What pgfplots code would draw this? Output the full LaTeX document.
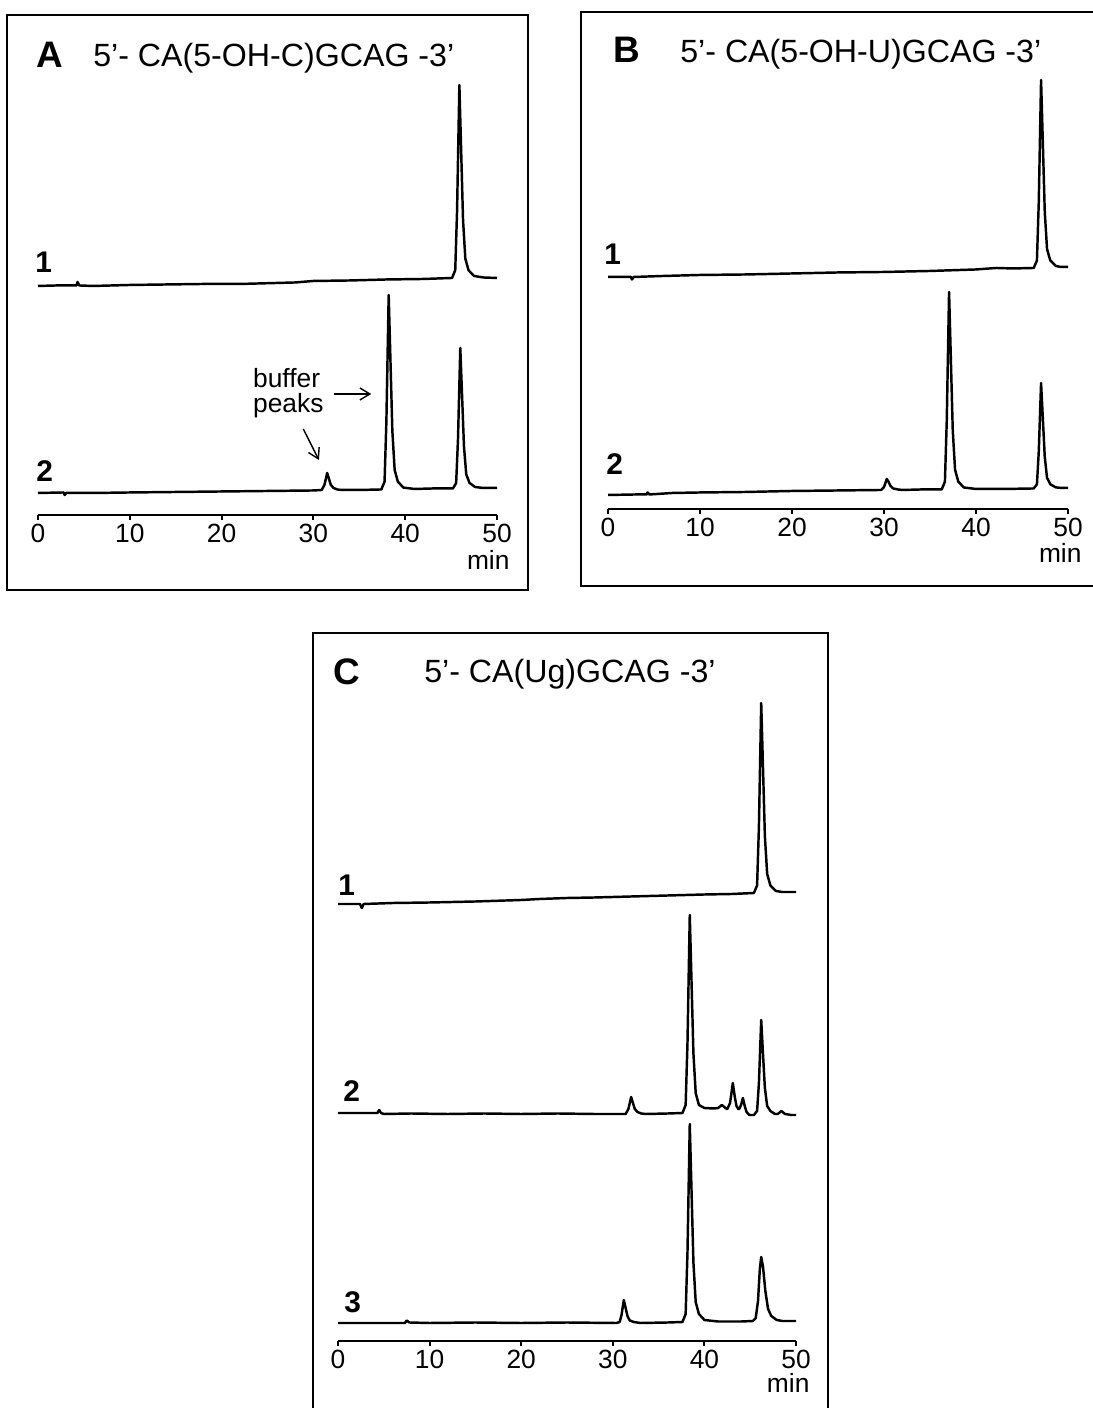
\documentclass[border=0pt]{standalone}
\usepackage{fontspec}
\setmainfont{Liberation Sans}
\usepackage{pgfplots}
\pgfplotsset{compat=1.18}
\usetikzlibrary{arrows.meta}

% one unit of the picture = 0.2mm
\pgfplotsset{
  chrom/.style={
    scale only axis, y=0.2mm, ymin=0, xmin=0, xmax=50,
    axis x line=bottom, axis y line=none,
    axis line style={-, line width=1.1pt},
    xtick={0,10,20,30,40,50},
    tick align=outside, major tick length=1mm,
    tick style={line width=1.1pt, black},
    /pgf/number format/assume math mode=true,
    xticklabel style={font=\fontsize{15}{17}\selectfont, inner sep=2pt},
    clip=false, anchor=south west,
    every axis plot post/.append style={black, line width=1.4pt, line join=round, mark=none},
  },
}
\newcommand{\ttl}{\fontsize{18.3}{21}\selectfont}
\newcommand{\pnl}{\fontsize{21}{24}\selectfont\bfseries}
\newcommand{\lbl}{\fontsize{17}{19}\selectfont\bfseries}
\newcommand{\annot}{\fontsize{15}{17}\selectfont}

\begin{document}
\begin{tikzpicture}[x=0.2mm, y=0.2mm]
\useasboundingbox (0,0) rectangle (1093,1408);

% frames
\draw[line width=1.1pt] (7,818) rectangle (528,1393);
\draw[line width=1.1pt] (1093,1396) -- (581,1396) -- (581,822) -- (1093,822);
\draw[line width=1.1pt] (313,0) -- (313,775) -- (828,775) -- (828,0);

% panel titles
\node[anchor=base west, inner sep=0, font=\pnl] at (36,1340) {A};
\node[anchor=base west, inner sep=0, font=\ttl] at (93,1341) {5’- CA(5-OH-C)GCAG -3’};
\node[anchor=base west, inner sep=0, font=\pnl] at (613,1345) {B};
\node[anchor=base west, inner sep=0, font=\ttl] at (680,1345) {5’- CA(5-OH-U)GCAG -3’};
\node[anchor=base west, inner sep=0, font=\pnl] at (333,723) {C};
\node[anchor=base west, inner sep=0, font=\ttl] at (424,725) {5’- CA(Ug)GCAG -3’};

% trace numbers
\node[anchor=base west, inner sep=0, font=\lbl] at (35,1135) {1};
\node[anchor=base west, inner sep=0, font=\lbl] at (36,926) {2};
\node[anchor=base west, inner sep=0, font=\lbl] at (604,1143) {1};
\node[anchor=base west, inner sep=0, font=\lbl] at (606,933) {2};
\node[anchor=base west, inner sep=0, font=\lbl] at (338,512) {1};
\node[anchor=base west, inner sep=0, font=\lbl] at (343,306) {2};
\node[anchor=base west, inner sep=0, font=\lbl] at (344,95) {3};

%% ---------------- A ----------------
\begin{axis}[chrom, at={(7.6mm,178.6mm)}, x=1.836mm, ymax=440]
\addplot coordinates {(0,229) (2,229.5) (4.2,229.5) (4.3,233) (4.5,229.5) (6,229)
  (10,230) (14,230.5) (18,231) (22,231) (26,232) (28,232.5) (30,234) (34,234.5)
  (38,235.5) (42,236) (45.1,237) (45.45,244.7) (45.65,304.5) (45.9,430)
  (46.1,362.5) (46.3,295) (46.55,256.3) (46.9,244.7) (47.5,239) (48.5,237.5) (50,237)};
\addplot coordinates {(0,22) (2.8,22.5) (2.9,20) (3.1,22) (6,22) (10,22.5) (15,23)
  (20,23.5) (25,24) (30,24.5) (30.9,25) (31.2,30) (31.5,42) (31.7,36) (31.9,30)
  (32.2,27) (32.6,25.5) (33,25) (35,25) (37.4,25.5) (37.75,33.3) (37.95,93.6)
  (38.2,220) (38.4,152) (38.6,84) (38.85,45) (39.2,33.3) (39.8,27.4) (41,26)
  (43,26.5) (45.2,26.5) (45.55,32) (45.75,75.7) (46,167) (46.2,117.8) (46.4,68.7)
  (46.65,40.6) (47,32.1) (47.6,28) (48.5,27) (50,27)};
\node[anchor=east, inner sep=0, font=\fontsize{15}{17}\selectfont] at (axis cs:51.4,-45) {min};
\node[anchor=base west, inner sep=0, font=\annot] at (axis cs:23.4,127) {buffer};
\node[anchor=base west, inner sep=0, font=\annot] at (axis cs:23.4,102) {peaks};
\draw[line width=0.8pt, -{Straight Barb[length=2mm, width=2.4mm]}] (axis cs:32.2,121) -- (axis cs:36.3,121);
\draw[line width=0.8pt, -{Straight Barb[length=2mm, width=2.4mm]}] (axis cs:28.9,86) -- (axis cs:30.6,55);
\end{axis}

%% ---------------- B ----------------
\begin{axis}[chrom, at={(121.6mm,179.8mm)}, x=1.84mm, ymax=440]
\addplot coordinates {(0,232) (2.5,232) (2.6,229.5) (2.8,232) (6,233) (10,234)
  (15,234.5) (20,235.5) (25,236.5) (30,237) (35,238) (40,239.5) (42.2,241)
  (44,240.5) (46.27,241) (46.62,248.5) (46.82,306.8) (47.07,429) (47.27,363.2)
  (47.47,297.4) (47.72,259.8) (48.07,248.5) (48.67,243) (49.2,242) (50,242)};
\addplot coordinates {(0,14) (3,14.5) (4.2,14.5) (4.3,16.5) (4.5,14.5) (7,16)
  (10,16.5) (15,17) (20,18) (25,18.5) (29.7,19) (30,22) (30.3,30) (30.5,27)
  (30.7,23) (31,20.5) (31.5,19.5) (32,19) (34,19.5) (36.27,19.5) (36.62,27.4)
  (36.82,88.6) (37.07,217) (37.27,147.9) (37.47,78.8) (37.72,39.3) (38.07,27.4)
  (38.67,21.5) (40,20) (43,20) (46.27,20.5) (46.62,24.7) (46.82,57.4) (47.07,126)
  (47.27,89.1) (47.47,52.2) (47.72,31.1) (48.07,24.7) (48.67,21.6) (49.3,21) (50,21)};
\node[anchor=east, inner sep=0, font=\fontsize{15}{17}\selectfont] at (axis cs:51.5,-44) {min};
\end{axis}

%% ---------------- C ----------------
\begin{axis}[chrom, at={(67.6mm,13.4mm)}, x=1.832mm, ymax=650]
\addplot coordinates {(0,437) (2.4,437) (2.6,433) (2.8,437) (6,438) (10,438.5)
  (15,439.5) (20,441) (22,442) (25,443) (28,443.5) (32,444.5) (36,445.5) (40,446.5)
  (43,447) (45.4,448) (45.75,455.6) (45.95,514.5) (46.2,638) (46.4,571.5)
  (46.6,505) (46.85,467) (47.2,455.6) (47.8,450) (48.5,449) (50,449)};
\addplot coordinates {(0,228) (3,228) (4.3,228) (4.5,231) (4.7,228) (5,227) (8,227.5)
  (12,227) (16,227.5) (20,227) (24,227.5) (28,227) (31.4,227) (31.7,232) (32,244)
  (32.2,238) (32.4,232) (32.7,229) (33.1,227.5) (33.6,227) (36,227.5) (37.6,228)
  (37.95,236) (38.15,297.3) (38.4,426) (38.6,356.7) (38.8,287.4) (39.05,247.8)
  (39.4,236) (40,233) (41,232.5) (41.5,233) (41.9,236) (42.3,233) (42.5,232)
  (42.8,238) (43.1,258) (43.3,245) (43.5,235) (43.7,232) (43.8,232) (44,236)
  (44.2,243) (44.4,235) (44.6,229) (44.9,226) (45.4,226) (45.75,230) (45.95,258)
  (46.2,321) (46.4,286) (46.6,253) (46.85,235) (47.2,230) (47.7,227) (48,227)
  (48.4,230) (48.8,227) (49.5,226) (50,226)};
\addplot coordinates {(0,18) (4,18) (7.3,18) (7.5,20.5) (7.8,18.5) (10,18) (15,18.5)
  (20,18) (25,18.5) (30.4,18) (30.75,19) (30.95,26) (31.2,41) (31.4,33) (31.6,25)
  (31.85,20.5) (32.3,19) (33,18) (36,18.5) (37.6,19) (37.95,27) (38.15,88.3)
  (38.4,217) (38.6,147.7) (38.8,78.4) (39.05,38.8) (39.4,27) (40,21) (41.5,19.5)
  (44,19.5) (45.3,20) (45.6,23) (45.85,40) (46.05,72) (46.2,84) (46.4,74)
  (46.65,50) (46.95,32) (47.3,25) (47.9,21) (48.5,20) (50,20)};
\node[anchor=east, inner sep=0, font=\fontsize{15}{17}\selectfont] at (axis cs:51.5,-42) {min};
\end{axis}
\end{tikzpicture}
\end{document}
